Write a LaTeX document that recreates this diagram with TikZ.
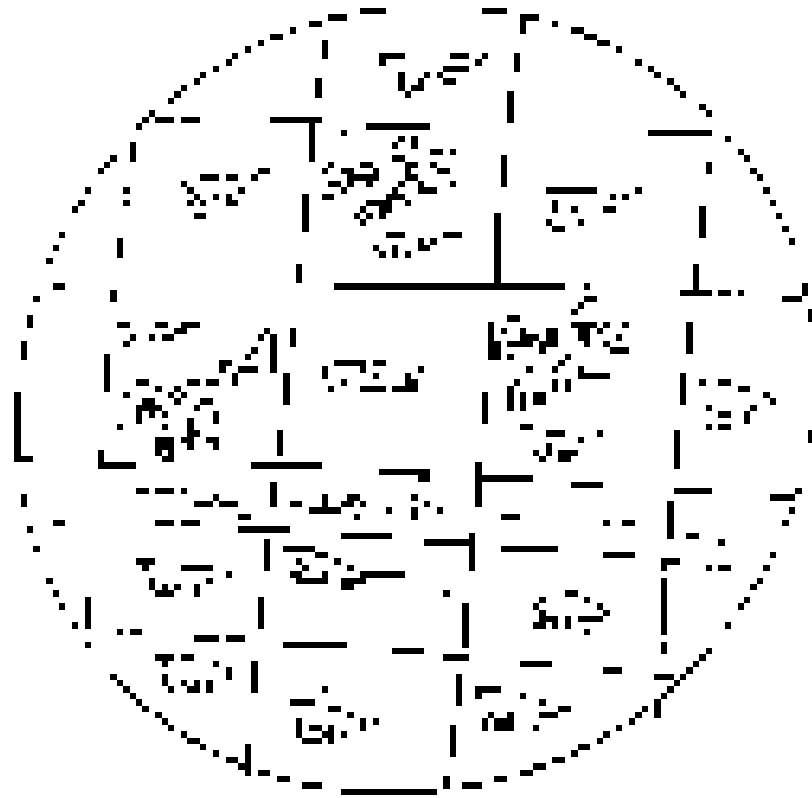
\documentclass[tikz,border=0pt]{standalone}
\begin{document}
\begin{tikzpicture}[
    x=0.2cm, y=-0.2cm,
    ink/.style={fill=black, draw=none},
]
\useasboundingbox (-0.234,-0.26) rectangle (126.64,124.27);
% horizontal runs, row/{col/width}
\foreach \row/\runs in {
    1/{56/4,75/4}, 2/{51/3,81/3}, 3/{48/2,86/1}, 4/{45/1,89/2}, 5/{42/2,91/2}, 6/{40/1,93/2},
    7/{38/1,96/1}, 8/{36/1,59/4,70/3,75/1}, 9/{35/1,59/1,74/1,99/1}, 10/{33/1,69/4,101/1},
    11/{31/1,66/1,68/1,102/1}, 12/{30/1,65/1,69/2,104/1}, 13/{28/1,64/2,105/1}, 14/{27/1,63/1,106/1},
    15/{26/1}, 16/{109/1}, 17/{23/1,110/1}, 18/{22/1,24/3,28/3,42/8}, 19/{21/1,57/10},
    20/{53/1,101/10}, 21/{62/1,113/1}, 22/{61/1}, 23/{67/2,70/1,115/1}, 24/{17/1,61/2,116/1},
    25/{16/1,51/1,56/2,63/2,67/1}, 26/{15/1,40/2,50/1,53/2,58/1,63/1,68/2,117/1},
    27/{31/3,35/2,39/1,54/5,63/2,118/1}, 28/{28/1,51/2,54/1,57/1,62/1,65/1,70/1},
    29/{13/1,19/1,29/1,37/1,53/1,61/1,65/3,85/8,99/1,119/1}, 30/{30/1,33/1,35/1,50/2,60/3,95/1,97/1},
    31/{12/1,19/1,29/1,31/1,35/2,57/4,63/1,120/1}, 32/{11/1,56/1,59/2,89/1,94/2},
    33/{30/2,55/1,57/1,59/1,121/1}, 34/{56/1,85/1,90/1}, 35/{86/2,122/1}, 36/{9/1,60/3,69/3},
    37/{65/1,67/1,123/1}, 38/{8/1,58/1,65/2}, 39/{59/1,63/1}, 40/{7/1},
    44/{8/2,52/36,91/1}, 45/{106/5,112/2,115/1}, 46/{5/1,91/2,122/3}, 47/{90/1}, 48/{89/1}, 49/{79/2},
    50/{18/2,24/2,28/3,89/4,94/1,97/1}, 51/{27/2,41/1,78/1,81/1,85/2,90/2,93/1},
    52/{20/1,23/1,25/2,40/1,81/3,85/2,90/2,96/1}, 53/{19/1,79/4,84/3,91/1,94/1}, 54/{39/1,84/1,95/3},
    55/{38/1,79/1,88/1}, 56/{34/2,52/5,58/2,87/1}, 57/{34/1,37/3,56/1,65/1,82/1,86/1},
    58/{58/1,63/1,90/5}, 59/{21/2,29/2,32/2,53/1,63/2,80/1,109/1,112/2},
    60/{24/1,27/1,51/1,56/4,61/4,115/2}, 61/{19/1,26/1,28/1,83/2,119/1}, 62/{22/2,27/1,31/2,83/2,120/1},
    63/{21/4,30/1,110/1,117/1}, 64/{21/1,23/1,25/1,112/2}, 65/{21/1},
    66/{18/1,25/1,81/2,110/1,112/2}, 67/{30/1,85/3,93/1}, 68/{24/3,28/2,32/2,90/1}, 69/{24/3,33/1},
    70/{24/1,26/1,83/1,87/3}, 71/{2/3,25/2,84/1,87/2}, 72/{15/6,39/11}, 73/{59/8}, 74/{65/2,75/8},
    75/{89/5}, 76/{21/2,24/3,28/1,105/6,124/1}, 77/{33/1,54/2,64/1,120/4},
    78/{30/3,34/3,45/2,53/2,56/1,66/1}, 79/{48/5,60/1,68/1,123/1}, 80/{37/2,55/1,78/3},
    81/{8/2,24/3,28/3,94/1,97/2,122/1}, 82/{4/1,37/8}, 83/{53/8,107/2}, 84/{66/7,112/1},
    85/{5/1,44/5,78/9}, 86/{49/2,94/5,120/1}, 87/{21/3,46/1,52/1,103/3},
    88/{22/1,28/5,47/1,54/1,110/1,112/2,119/1}, 89/{35/1,45/2,50/1,56/7},
    90/{7/1,32/1,46/5,53/4,118/1}, 91/{25/1,27/1,53/2,117/1}, 92/{8/1,24/3,69/1,88/2},
    93/{84/1,91/1,116/1}, 94/{9/1,83/1,93/1,115/1}, 95/{84/1,94/1}, 96/{84/3,90/4},
    97/{11/1,83/2,86/1,113/1}, 98/{18/1,20/2,91/1}, 99/{30/4,35/3}, 100/{13/1,44/10},
    101/{61/5,110/1}, 102/{24/3,28/2,69/4,109/1}, 103/{25/1,33/1,81/5,108/1}, 104/{94/3,107/1},
    105/{17/1,102/3,106/1}, 106/{18/1,28/1,30/1,105/1}, 107/{19/1,26/1,29/2,50/1,74/4,104/1},
    108/{20/1,81/1,103/1}, 109/{21/1,45/4,84/1}, 110/{22/1,51/2,87/2,100/1},
    111/{24/1,54/1,76/1,79/1,84/3,99/1}, 112/{25/1,58/1,77/3,98/1}, 113/{26/1,48/2,77/3,83/1,96/1},
    114/{28/1,50/1,53/1,94/1}, 115/{29/2,47/3,93/1}, 116/{31/1,90/2}, 117/{33/1,89/1},
    118/{35/2,86/2}, 119/{37/1,83/2}, 120/{40/2,81/2}, 121/{43/2,77/2}, 122/{47/3,72/3}, 123/{53/15}%
} {
    \foreach \col/\len in \runs {
        \fill[ink] (\col,\row) rectangle ++(\len,1);
    }
}
% vertical runs, col/row/height
\foreach \col/\row/\len in {
    50/6/3, 62/11/3, 49/12/3, 48/19/6, 20/22/3, 47/30/6, 18/37/3, 61/38/2, 46/41/3, 17/45/2,
    4/49/2, 45/51/3, 42/52/6, 3/53/3, 16/55/6, 50/57/2, 36/58/2, 44/58/5, 2/61/11, 33/64/2,
    29/65/5, 43/67/4, 15/70/3, 42/75/4, 3/77/2, 50/77/2, 41/84/5, 23/90/2, 30/91/2, 13/93/5,
    40/93/5, 39/103/5, 35/104/2, 25/105/2, 32/106/2, 46/112/3, 56/112/2, 51/113/3, 38/116/5,
    81/2/3, 80/8/3, 79/14/5, 64/21/2, 78/24/5, 110/25/2, 86/31/2, 109/32/5, 77/33/11, 108/41/4,
    125/44/2, 126/48/2, 76/50/6, 77/53/3, 107/50/5, 90/57/2, 106/58/5, 86/59/2, 88/59/2, 79/60/4,
    75/61/5, 81/61/3, 116/64/2, 105/67/6, 126/67/2, 85/69/2, 74/72/7, 104/78/6, 64/79/2, 73/83/6,
    103/87/2, 103/90/9, 72/94/7, 88/96/2, 103/100/2, 71/105/5, 74/107/2, 102/109/3, 75/112/2,
    70/113/5, 69/121/2
} {
    \fill[ink] (\col,\row) rectangle ++(1,\len);
}
\end{tikzpicture}
\end{document}
